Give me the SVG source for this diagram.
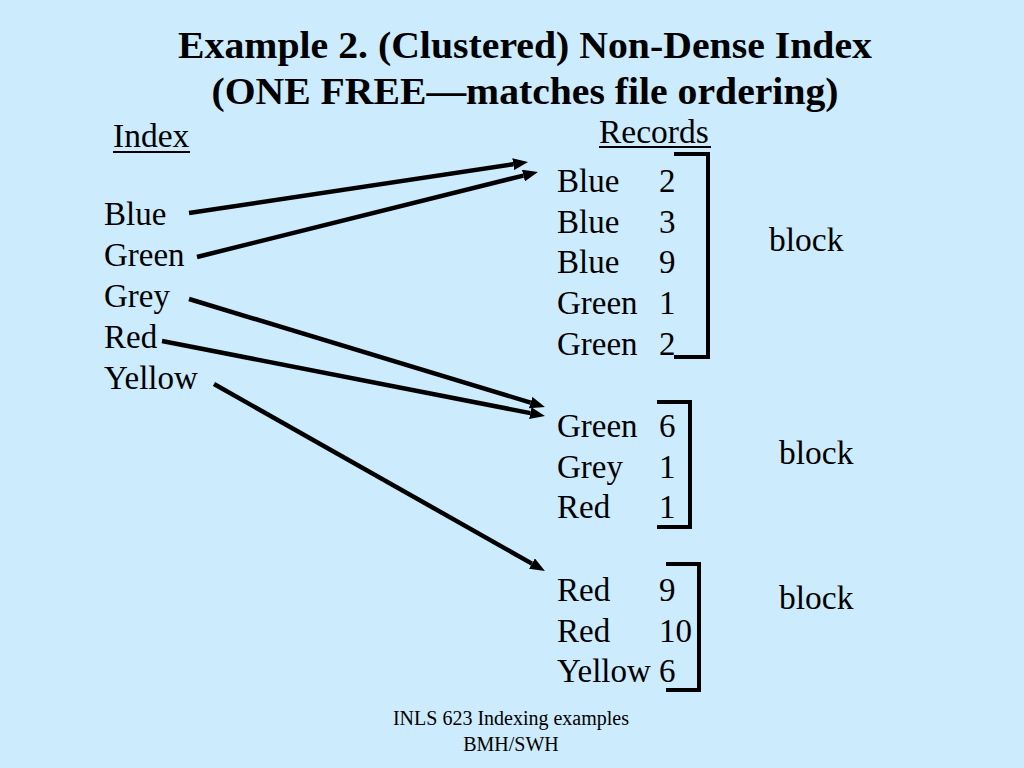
<svg xmlns="http://www.w3.org/2000/svg" width="1024" height="768" viewBox="0 0 1024 768">
<style>
  .t { font-family: "Liberation Serif", "Times New Roman", serif; fill: #000; }
  .title { font-size: 38px; font-weight: bold; }
  .body { font-size: 33px; }
  .hdr { font-size: 33.5px; }
  .foot { font-size: 20px; }
  .conn { stroke: #000; stroke-width: 4.5; fill: none; marker-end: url(#arrow); }
  .brk { stroke: #000; stroke-width: 4; fill: none; }
  .ul { stroke: #000; stroke-width: 2; }
</style>
<defs>
  <marker id="arrow" markerUnits="userSpaceOnUse" markerWidth="15" markerHeight="12" viewBox="0 0 15 12" refX="0" refY="6" orient="auto">
    <path d="M0,0 L15,6 L0,12 z" fill="#000"/>
  </marker>
</defs>
<rect width="1024" height="768" fill="#CCEBFD"/>

<g id="title">
  <text class="t title" x="525" y="58" text-anchor="middle" textLength="694" lengthAdjust="spacingAndGlyphs">Example 2. (Clustered) Non-Dense Index</text>
  <text class="t title" x="525" y="104" text-anchor="middle" textLength="627" lengthAdjust="spacingAndGlyphs">(ONE FREE—matches file ordering)</text>
</g>

<g id="index-header">
  <text class="t hdr" x="113" y="147">Index</text>
  <line class="ul" x1="113" y1="152" x2="190" y2="152"/>
</g>
<g id="records-header">
  <text class="t hdr" x="599" y="143">Records</text>
  <line class="ul" x1="599" y1="147" x2="711" y2="147"/>
</g>

<g id="index">
  <text class="t body" x="104" y="225">Blue</text>
  <text class="t body" x="104" y="266">Green</text>
  <text class="t body" x="104" y="307">Grey</text>
  <text class="t body" x="104" y="348">Red</text>
  <text class="t body" x="104" y="389">Yellow</text>
</g>

<g id="block1">
  <text class="t body" x="557" y="192">Blue</text><text class="t body" x="659" y="192">2</text>
  <text class="t body" x="557" y="233">Blue</text><text class="t body" x="659" y="233">3</text>
  <text class="t body" x="557" y="273">Blue</text><text class="t body" x="659" y="273">9</text>
  <text class="t body" x="557" y="314">Green</text><text class="t body" x="659" y="314">1</text>
  <text class="t body" x="557" y="355">Green</text><text class="t body" x="659" y="355">2</text>
  <path class="brk" d="M674,154 H708 V357 H674"/>
  <text class="t hdr" x="769" y="251">block</text>
</g>

<g id="block2">
  <text class="t body" x="557" y="437">Green</text><text class="t body" x="659" y="437">6</text>
  <text class="t body" x="557" y="478">Grey</text><text class="t body" x="659" y="478">1</text>
  <text class="t body" x="557" y="518">Red</text><text class="t body" x="659" y="518">1</text>
  <path class="brk" d="M657,402 H690 V527 H657"/>
  <text class="t hdr" x="779" y="464">block</text>
</g>

<g id="block3">
  <text class="t body" x="557" y="601">Red</text><text class="t body" x="659" y="601">9</text>
  <text class="t body" x="557" y="642">Red</text><text class="t body" x="659" y="642">10</text>
  <text class="t body" x="557" y="682">Yellow</text><text class="t body" x="659" y="682">6</text>
  <path class="brk" d="M666,564 H699 V690 H666"/>
  <text class="t hdr" x="779" y="609">block</text>
</g>

<g id="connectors">
  <line class="conn" x1="189" y1="213" x2="513.2" y2="164.2"/>
  <line class="conn" x1="197" y1="257" x2="523.4" y2="175.6"/>
  <line class="conn" x1="189" y1="299" x2="530.6" y2="402.6"/>
  <line class="conn" x1="162" y1="341" x2="530.3" y2="413.1"/>
  <line class="conn" x1="214" y1="384" x2="531.9" y2="563.6"/>
</g>

<g id="footer">
  <text class="t foot" x="511" y="725" text-anchor="middle">INLS 623 Indexing examples</text>
  <text class="t foot" x="511" y="751" text-anchor="middle">BMH/SWH</text>
</g>
</svg>
